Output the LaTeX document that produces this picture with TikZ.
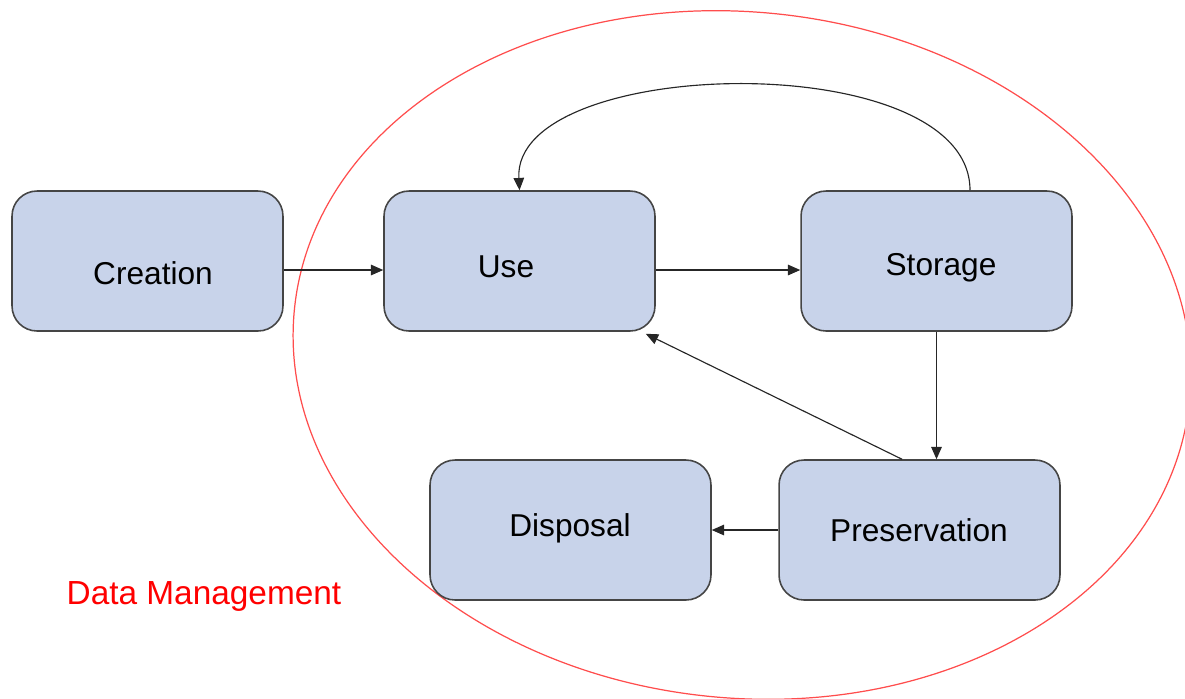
\documentclass[tikz,border=0pt]{standalone}
\usepackage{fontspec}
\setmainfont{Liberation Sans}
\usetikzlibrary{arrows.meta}
\definecolor{boxfill}{HTML}{C8D3EA}
\definecolor{boxline}{HTML}{454545}
\definecolor{ringred}{HTML}{FF4D4D}
\begin{document}
\begin{tikzpicture}[x=0.02cm,y=-0.02cm,
  stagebox/.style={draw=boxline,line width=0.9pt,fill=boxfill,rounded corners=0.5cm,
    minimum width=5.42cm,minimum height=2.8cm,inner sep=0pt},
  widebox/.style={stagebox,minimum width=5.62cm},
  stagetext/.style={font=\fontsize{18}{22}\selectfont,inner sep=0pt},
  arr/.style={line width=0.65pt,draw=black!85,-{Triangle[length=7pt,width=6pt]}}]
\useasboundingbox (0,0) rectangle (1185,698);
\clip (0,0) rectangle (1185,698);
% ring
\draw[ringred,line width=0.7pt,rotate around={-6:(742,355)}] (742,355) ellipse [x radius=9cm,y radius=6.86cm];
% boxes
\node[stagebox] (Creation) at (147.5,261) {};
\node[stagebox] (Use) at (519.5,261) {};
\node[stagebox] (Storage) at (936.5,261) {};
\node[widebox] (Disposal) at (570.5,530) {};
\node[widebox] (Preservation) at (919.5,530) {};
% texts
\node[stagetext] (tCreation) at (153,273) {Creation};
\node[stagetext] (tUse) at (506,267) {Use};
\node[stagetext] (tStorage) at (941,268) {Storage};
\node[stagetext] (tDisposal) at (570,528) {Disposal};
\node[stagetext] (tPreservation) at (919,530) {Preservation};
\node[stagetext,text=red,font=\fontsize{19}{23}\selectfont] (tDM) at (204,596) {Data Management};
% connectors
\draw[arr] ([yshift=-0.18cm]Creation.east) -- ([yshift=-0.18cm]Use.west);
\draw[arr] ([yshift=-0.18cm]Use.east) -- ([yshift=-0.18cm]Storage.west);
\draw[arr] (Storage.south) -- (Storage.south |- Preservation.north);
\draw[arr] ([xshift=-0.35cm]Preservation.north) -- ([xshift=-0.2cm,yshift=-0.04cm]Use.south east);
\draw[arr] (Preservation.west) -- (Disposal.east);
\draw[arr] ([xshift=0.67cm]Storage.north) .. controls (970,45) and (512,55) .. (Use.north);
\end{tikzpicture}
\end{document}
